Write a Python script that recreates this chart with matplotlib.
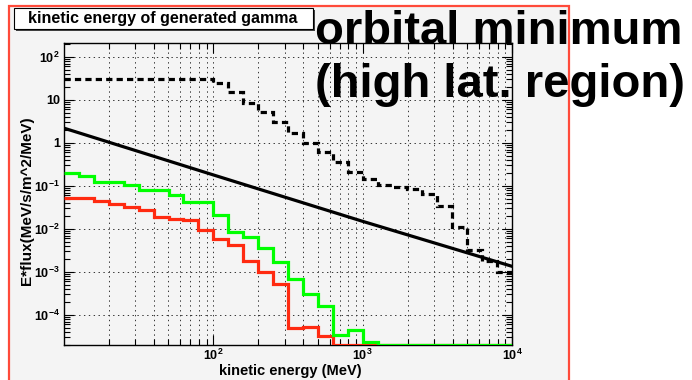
import numpy as np
import matplotlib
matplotlib.use("Agg")
import matplotlib.pyplot as plt
from matplotlib.patches import Rectangle
from matplotlib.ticker import LogLocator, FixedLocator, FuncFormatter, NullFormatter

plt.rcParams['font.family'] = ['Liberation Sans', 'DejaVu Sans']
plt.rcParams['font.weight'] = 'bold'
plt.rcParams['mathtext.fontset'] = 'custom'
plt.rcParams['mathtext.rm'] = 'Liberation Sans:bold'
plt.rcParams['mathtext.bf'] = 'Liberation Sans:bold'
plt.rcParams['mathtext.default'] = 'rm'
plt.rcParams['lines.scale_dashes'] = False

# 30 log bins, 10 MeV .. 10 GeV
edges = np.logspace(1, 4, 31)

dashed_flux = [30.5, 30.5, 30.5, 30.5, 30.5, 30.5, 30.5, 30.5, 30.5, 30.5,
               24.9, 15.0, 8.5, 5.15, 3.0, 1.7, 1.0, 0.6, 0.355, 0.21,
               0.146, 0.107, 0.095, 0.085, 0.066, 0.035, 0.0109, 0.0033, 0.0018, 0.001]
green_flux = [0.20, 0.174, 0.124, 0.124, 0.105, 0.082, 0.082, 0.063, 0.0425, 0.0425,
              0.0215, 0.0083, 0.0065, 0.0036, 0.00167, 0.00069, 0.00031, 0.000164, 3.5e-5, 4.4e-5,
              2.3e-5, 0, 0, 0, 0, 0, 0, 0, 0, 0]
red_flux = [0.0526, 0.0526, 0.0438, 0.0387, 0.0318, 0.0281, 0.019, 0.0174, 0.0165, 0.0096,
            0.0059, 0.0042, 0.00183, 0.00098, 0.000535, 4.9e-5, 5.3e-5, 3.2e-5, 0, 0,
            0, 0, 0, 0, 0, 0, 0, 0, 0, 0]
model_e = [10, 100, 1000, 10000]
model_flux = [2.2, 0.18, 0.015, 0.00135]

ymin, ymax = 2e-5, 2.1e2
W, H = 692, 380


def fx(px):
    return px / W


def fy(py):
    return 1 - py / H


fig = plt.figure(figsize=(6.92, 3.80), dpi=100, facecolor='white')

# canvas background + red frame
fig.patches.append(Rectangle((fx(9), -0.05), fx(569) - fx(9), fy(6) + 0.05,
                             transform=fig.transFigure, facecolor='#f4f4f4',
                             edgecolor='none', zorder=-5))
fig.patches.append(Rectangle((fx(9), -0.05), fx(569) - fx(9), fy(6) + 0.05,
                             transform=fig.transFigure, facecolor='none',
                             edgecolor='#ff4a3a', lw=1.6, zorder=20))

ax = fig.add_axes([fx(64), fy(345), fx(512) - fx(64), fy(43) - fy(345)])
ax.set_facecolor('#f4f4f4')
ax.set_xscale('log')
ax.set_yscale('log')
ax.set_xlim(10, 1e4)
ax.set_ylim(ymin, ymax)

def clip_bottom(v):
    v = np.asarray(v, dtype=float)
    return np.where(v > 0, v, ymin)

ax.stairs(clip_bottom(red_flux), edges, baseline=None, color='#ff2a10', lw=2.3, zorder=3)
ax.stairs(clip_bottom(green_flux), edges, baseline=None, color='#00ff00', lw=2.3, zorder=3.1)
ax.plot(model_e, model_flux, color='black', lw=2.3, zorder=3.2)
ds = ax.stairs(dashed_flux, edges, baseline=None, color='black', lw=2.3, zorder=3.3)
ds.set_linestyle((0, (4.5, 3.0)))

# ticks
ax.xaxis.set_major_locator(FixedLocator([1e2, 1e3, 1e4]))
ax.xaxis.set_minor_locator(LogLocator(base=10, subs=np.arange(2, 10), numticks=20))
ax.xaxis.set_minor_formatter(NullFormatter())
ax.yaxis.set_major_locator(FixedLocator([1e-4, 1e-3, 1e-2, 1e-1, 1, 10, 100]))
ax.yaxis.set_minor_locator(LogLocator(base=10, subs=np.arange(2, 10), numticks=20))
ax.yaxis.set_minor_formatter(NullFormatter())


def log_fmt(v, pos):
    n = int(round(np.log10(v)))
    if n == 0:
        return '1'
    if n == 1:
        return '10'
    return r'$10^{%d}$' % n


ax.xaxis.set_major_formatter(FuncFormatter(log_fmt))
ax.yaxis.set_major_formatter(FuncFormatter(log_fmt))
ax.tick_params(which='both', direction='in', top=True, right=True, width=0.8,
               labelsize=9, colors='black')
ax.tick_params(which='major', length=7)
ax.tick_params(which='minor', length=4)
ax.tick_params(axis='x', pad=2)
ax.tick_params(axis='y', pad=3)

ax.grid(True, which='major', axis='both', color='#333333', lw=0.7, ls=(0, (1, 2.5)))
ax.grid(True, which='minor', axis='x', color='#333333', lw=0.7, ls=(0, (1, 2.5)))
for s in ax.spines.values():
    s.set_linewidth(1.0)

fig.text(fx(290), fy(371), 'kinetic energy (MeV)', ha='center', va='center', fontsize=10.5)
fig.text(fx(27), fy(201), 'E*flux(MeV/s/m^2/MeV)', ha='center', va='center',
         rotation=90, fontsize=11)

# title box with shadow
fig.patches.append(Rectangle((fx(16), fy(31)), fx(315) - fx(16), fy(10) - fy(31),
                             transform=fig.transFigure, facecolor='#444444',
                             edgecolor='none', zorder=5))
fig.patches.append(Rectangle((fx(14), fy(29)), fx(313) - fx(14), fy(8) - fy(29),
                             transform=fig.transFigure, facecolor='white',
                             edgecolor='black', lw=0.8, zorder=6))
fig.text(fx(163), fy(19), 'kinetic energy of generated gamma', ha='center', va='center',
         fontsize=11.5, zorder=7)

fig.text(fx(315), fy(44), 'orbital minimum', ha='left', va='baseline',
         fontsize=34, zorder=8)
fig.text(fx(315), fy(97), '(high lat. region)', ha='left', va='baseline',
         fontsize=34, zorder=8)

fig.savefig('out.png', dpi=100, facecolor='white')
